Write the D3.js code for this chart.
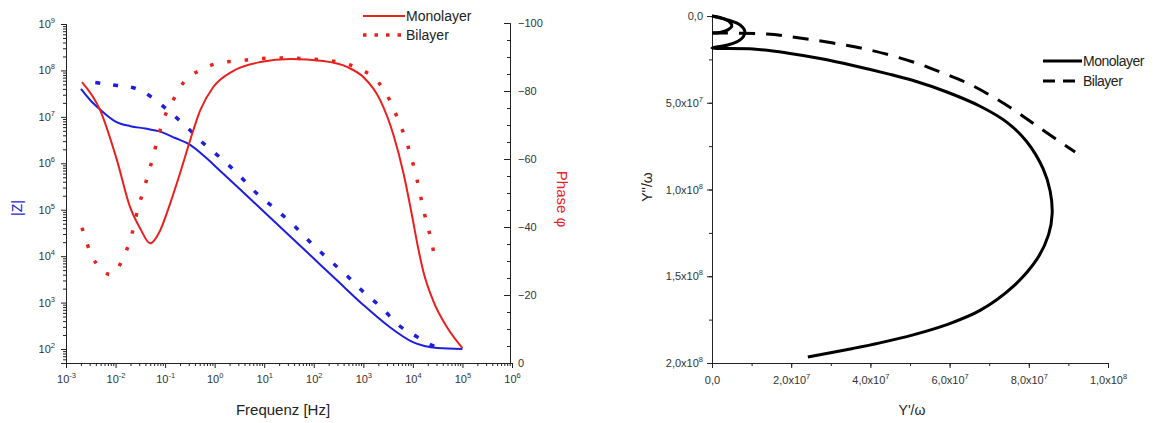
<!DOCTYPE html>
<html>
<head>
<meta charset="utf-8">
<script src="https://cdn.jsdelivr.net/npm/d3@7"></script>
<style>
  body { margin: 0; background: #fff; }
  svg { font-family: "Liberation Sans", Arial, sans-serif; }
  .axis path, .axis line { stroke: #222; }
  .axis text { fill: #333; font-size: 11px; }
</style>
</head>
<body>
<div id="chart"></div>
<script>
// Bode plot: |Z| (Ohm) and phase (deg) over frequency (Hz)
const zMonolayer = [
  [2.0e-3, 4.0e7], [3.2e-3, 2.2e7], [5.0e-3, 1.4e7], [1e-2, 7.9e6], [2e-2, 6.3e6],
  [4e-2, 5.6e6], [8e-2, 4.8e6], [0.16, 3.5e6], [0.32, 2.5e6], [0.63, 1.4e6],
  [1, 8.9e5], [3.2, 2.8e5], [10, 8.9e4], [32, 2.8e4], [100, 8.9e3], [316, 2.8e3],
  [1000, 890], [3160, 316], [1e4, 141], [3.16e4, 105], [1e5, 100]
];
const zBilayer = [
  [3.9e-3, 5.5e7], [9.8e-3, 4.8e7], [2.2e-2, 4.3e7], [5.5e-2, 2.6e7], [0.126, 1.26e7],
  [0.275, 6.0e6], [0.59, 2.7e6], [1.41, 1.23e6], [3.3, 5.2e5], [7.2, 2.2e5],
  [16.6, 1.05e5], [39, 4.7e4], [85, 2.0e4], [195, 8.7e3], [480, 3.7e3], [1000, 1.7e3],
  [2400, 760], [5100, 330], [1.23e4, 182], [2.7e4, 115], [4.0e4, 105]
];
const phaseMonolayer = [
  [2.1e-3, -82.6], [4.9e-3, -74.3], [1.07e-2, -59.6], [1.95e-2, -46], [3.16e-2, -39.5],
  [5.0e-2, -35.2], [7.9e-2, -38.9], [0.117, -45.5], [0.2, -55.8], [0.32, -65.5],
  [0.51, -74.3], [0.93, -81.1], [2.3, -85.8], [8.3, -88.5], [34, -89.4], [155, -88.8],
  [480, -87], [1000, -84.1], [2190, -77.3], [4070, -67], [6460, -55.8], [9770, -42.8],
  [1.23e4, -35], [1.62e4, -27], [2.57e4, -18.3], [5.0e4, -10.3], [1e5, -4.4]
];
const phaseBilayer = [
  [2.1e-3, -39.8], [2.75e-3, -34.5], [4.1e-3, -29.2], [8.1e-3, -26], [1.41e-2, -30.7],
  [1.95e-2, -36], [2.34e-2, -40.1], [2.8e-2, -45.2], [3.6e-2, -50.4], [4.6e-2, -55.8],
  [5.8e-2, -61], [7.2e-2, -66.4], [9.5e-2, -72], [0.138, -76.7], [0.23, -82.3],
  [0.56, -86.4], [1.17, -88.2], [2.8, -88.8], [6.6, -89.4], [15, -89.7], [34, -89.7],
  [78, -89.4], [170, -89.1], [400, -88.2], [870, -86.4], [2000, -82.6], [3400, -77.3],
  [4900, -72], [6800, -66.7], [8900, -61.4], [1.12e4, -56], [1.62e4, -45.5],
  [1.95e4, -40.4], [2.45e4, -35.1], [2.8e4, -29.5]
];
const freqTicks = [1e-3, 1e-2, 1e-1, 1e0, 1e1, 1e2, 1e3, 1e4, 1e5, 1e6];
const zTicks = [1e2, 1e3, 1e4, 1e5, 1e6, 1e7, 1e8, 1e9];
const phaseTicks = [0, -20, -40, -60, -80, -100];

// admittance plot: Y'/w vs Y''/w
const admMonolayer = [
  [0, 0], [4e6, 2.3e6], [7.1e6, 5.2e6], [8.3e6, 9.2e6], [7.1e6, 1.38e7], [4e6, 1.67e7],
  [0, 1.84e7], [1.04e7, 1.9e7], [1.89e7, 2.13e7], [2.73e7, 2.45e7], [3.56e7, 2.85e7],
  [4.42e7, 3.32e7], [5.08e7, 3.72e7], [5.93e7, 4.38e7], [6.77e7, 5.2e7], [7.45e7, 6.13e7],
  [7.95e7, 7.25e7], [8.36e7, 8.8e7], [8.54e7, 1.01e8], [8.59e7, 1.14e8], [8.5e7, 1.26e8],
  [8.21e7, 1.4e8], [7.60e7, 1.56e8], [6.77e7, 1.697e8], [5.93e7, 1.779e8], [5.08e7, 1.838e8],
  [4.24e7, 1.884e8], [3.56e7, 1.916e8], [2.42e7, 1.965e8]
];
const admBilayer = [
  [0, 0], [2.5e6, 1.2e6], [4.5e6, 3.5e6], [5e6, 5.8e6], [4e6, 8e6], [2e6, 9.5e6],
  [0, 9.8e6], [1.39e7, 1.04e7], [2.22e7, 1.27e7], [3.06e7, 1.56e7], [3.99e7, 1.96e7],
  [5.08e7, 2.65e7], [5.76e7, 3.23e7], [6.44e7, 3.86e7], [7.10e7, 4.67e7], [7.70e7, 5.53e7],
  [8.28e7, 6.46e7], [9.17e7, 7.84e7]
];
const admXTicks = [0, 2e7, 4e7, 6e7, 8e7, 1e8];
const admYTicks = [0, 5e7, 1e8, 1.5e8, 2e8];

const blue = "#1e1ee0", red = "#e8201e";

const svg = d3.select("#chart").append("svg")
  .attr("width", 1160).attr("height", 423);
svg.append("rect").attr("width", 1160).attr("height", 423).attr("fill", "#fff");

function powLabel(sel, base, exp) {
  sel.text(null);
  sel.append("tspan").text(base);
  sel.append("tspan").attr("dy", -5).attr("font-size", 7.5).text(exp);
}

// ---------- left chart ----------
const x = d3.scaleLog().domain([1e-3, 1e6]).range([66, 512]);
const yZ = d3.scaleLog().domain([50, 1e9]).range([363, 24]);
const yP = d3.scaleLinear().domain([0, -100]).range([363, 23]);

const minorF = [];
for (let e = -3; e < 6; e++) for (let m = 2; m < 10; m++) minorF.push(m * Math.pow(10, e));
const minorZ = [50, 60, 70, 80, 90];
for (let e = 2; e < 9; e++) for (let m = 2; m < 10; m++) minorZ.push(m * Math.pow(10, e));

svg.append("g").attr("class", "axis")
  .attr("transform", "translate(0,363)")
  .call(d3.axisBottom(x).tickValues(minorF).tickSizeOuter(0).tickSize(3).tickFormat(""));
svg.append("g").attr("class", "axis")
  .attr("transform", "translate(0,363)")
  .call(d3.axisBottom(x).tickValues(freqTicks).tickSizeOuter(0).tickSize(5).tickPadding(7))
  .selectAll(".tick text")
  .each(function (d) { powLabel(d3.select(this), "10", Math.round(Math.log10(d))); });

svg.append("g").attr("class", "axis")
  .attr("transform", "translate(66,0)")
  .call(d3.axisLeft(yZ).tickValues(minorZ).tickSizeOuter(0).tickSize(3).tickFormat(""));
svg.append("g").attr("class", "axis")
  .attr("transform", "translate(66,0)")
  .call(d3.axisLeft(yZ).tickValues(zTicks).tickSizeOuter(0).tickSize(5).tickPadding(6))
  .selectAll(".tick text")
  .each(function (d) { powLabel(d3.select(this), "10", Math.round(Math.log10(d))); });

svg.append("g").attr("class", "axis")
  .attr("transform", "translate(510,0)")
  .call(d3.axisRight(yP).tickValues(d3.range(0, -101, -5)).tickSizeOuter(0).tickSize(-3).tickFormat(""));
svg.append("g").attr("class", "axis")
  .attr("transform", "translate(510,0)")
  .call(d3.axisRight(yP).tickValues(phaseTicks).tickSizeOuter(0).tickSize(-6).tickPadding(8)
    .tickFormat(d => d3.format("d")(d)));

const lineZ = d3.line().x(d => x(d[0])).y(d => yZ(d[1])).curve(d3.curveMonotoneX);
const lineP = d3.line().x(d => x(d[0])).y(d => yP(d[1])).curve(d3.curveMonotoneX);

svg.append("path").datum(zBilayer).attr("d", lineZ)
  .attr("fill", "none").attr("stroke", blue).attr("stroke-width", 3.5).attr("stroke-dasharray", "5,13");
svg.append("path").datum(zMonolayer).attr("d", lineZ)
  .attr("fill", "none").attr("stroke", blue).attr("stroke-width", 2);
svg.append("path").datum(phaseBilayer).attr("d", lineP)
  .attr("fill", "none").attr("stroke", red).attr("stroke-width", 3.5).attr("stroke-dasharray", "3.5,14");
svg.append("path").datum(phaseMonolayer).attr("d", lineP)
  .attr("fill", "none").attr("stroke", red).attr("stroke-width", 2);

svg.append("text").attr("transform", "translate(22,208) rotate(-90)")
  .attr("text-anchor", "middle").attr("fill", blue).attr("font-size", 14).text("|Z|");
svg.append("text").attr("transform", "translate(557,199) rotate(90)")
  .attr("text-anchor", "middle").attr("fill", red).attr("font-size", 15).text("Phase φ");
svg.append("text").attr("x", 283).attr("y", 415)
  .attr("text-anchor", "middle").attr("fill", "#222").attr("font-size", 15).text("Frequenz [Hz]");

const legL = [["Monolayer", null, 16], ["Bilayer", "3.5,8", 35]];
legL.forEach(([name, dash, yy]) => {
  svg.append("line").attr("x1", 363).attr("x2", 405).attr("y1", yy).attr("y2", yy)
    .attr("stroke", red).attr("stroke-width", dash ? 3.5 : 2).attr("stroke-dasharray", dash);
  svg.append("text").attr("x", 406).attr("y", yy + 5).attr("fill", "#222").attr("font-size", 14).text(name);
});

// ---------- right chart ----------
const xa = d3.scaleLinear().domain([0, 1e8]).range([712, 1108]);
const ya = d3.scaleLinear().domain([0, 2e8]).range([16, 363]);

function sciLabel(sel, v) {
  if (v === 0) { sel.text("0,0"); return; }
  const e = Math.floor(Math.log10(v) + 1e-9);
  const m = (v / Math.pow(10, e)).toFixed(1).replace(".", ",");
  powLabel(sel, m + "x10", e);
}

svg.append("g").attr("class", "axis")
  .attr("transform", "translate(0,363)")
  .call(d3.axisBottom(xa).tickValues(d3.range(0, 1.01e8, 1e7)).tickSizeOuter(0).tickSize(3).tickFormat(""));
svg.append("g").attr("class", "axis")
  .attr("transform", "translate(0,363)")
  .call(d3.axisBottom(xa).tickValues(admXTicks).tickSizeOuter(0).tickSize(5).tickPadding(8))
  .selectAll(".tick text").each(function (d) { sciLabel(d3.select(this), d); });

svg.append("g").attr("class", "axis")
  .attr("transform", "translate(712,0)")
  .call(d3.axisLeft(ya).tickValues(d3.range(0, 2.01e8, 2.5e7)).tickSizeOuter(0).tickSize(3).tickFormat(""));
svg.append("g").attr("class", "axis")
  .attr("transform", "translate(712,0)")
  .call(d3.axisLeft(ya).tickValues(admYTicks).tickSizeOuter(0).tickSize(5).tickPadding(4))
  .selectAll(".tick text").each(function (d) { sciLabel(d3.select(this), d); });

const lineA = d3.line().x(d => xa(d[0])).y(d => ya(d[1])).curve(d3.curveCatmullRom.alpha(0.5));
// the tiny loop at the origin is too short to show gaps, draw it solid
svg.append("path").datum(admBilayer.slice(0, 7)).attr("d", lineA)
  .attr("fill", "none").attr("stroke", "#000").attr("stroke-width", 3);
svg.append("path").datum(admBilayer.slice(6)).attr("d", lineA)
  .attr("fill", "none").attr("stroke", "#000").attr("stroke-width", 3).attr("stroke-dasharray", "16,11");
svg.append("path").datum(admMonolayer).attr("d", lineA)
  .attr("fill", "none").attr("stroke", "#000").attr("stroke-width", 3);

svg.append("text").attr("x", 912).attr("y", 415)
  .attr("text-anchor", "middle").attr("fill", "#222").attr("font-size", 14).text("Y'/ω");
svg.append("text").attr("transform", "translate(652,187) rotate(-90)")
  .attr("text-anchor", "middle").attr("fill", "#222").attr("font-size", 14).text("Y''/ω");

const legR = [["Monolayer", null, 61], ["Bilayer", "12,8", 81]];
legR.forEach(([name, dash, yy]) => {
  svg.append("line").attr("x1", 1043).attr("x2", 1082).attr("y1", yy).attr("y2", yy)
    .attr("stroke", "#000").attr("stroke-width", 3).attr("stroke-dasharray", dash);
  svg.append("text").attr("x", 1083).attr("y", yy + 5).attr("fill", "#222").attr("font-size", 14)
    .attr("letter-spacing", -0.5).text(name);
});
</script>
</body>
</html>
